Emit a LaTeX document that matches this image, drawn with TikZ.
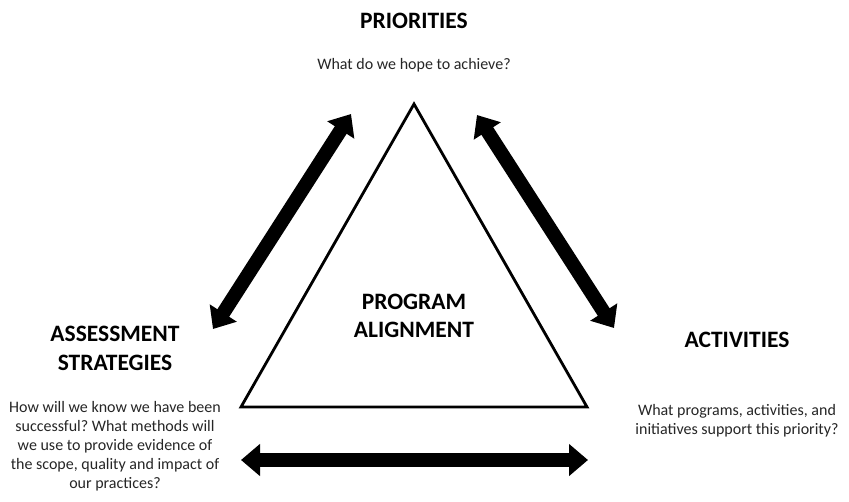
\documentclass[tikz,border=0pt]{standalone}
\usepackage{fontspec}
\setmainfont{Carlito}
\usetikzlibrary{arrows.meta}
\frenchspacing
\begin{document}
\begin{tikzpicture}[x=1pt,y=-1pt,
  title/.style={font=\bfseries\fontsize{23.5}{28}\selectfont, align=center, inner sep=0pt},
  desc/.style={font=\fontsize{16}{19}\selectfont, align=center, inner sep=0pt, text=black!85},
  bigarrow/.style={line width=14pt, {Triangle[length=19pt,width=31pt]}-{Triangle[length=19pt,width=31pt]}},
  tri/.style={draw, line width=2.8pt, line join=miter}]
\useasboundingbox (0,0) rectangle (849,501);
\fill[white] (0,0) rectangle (849,501);
% triangle
\coordinate (apex) at (414,104);
\coordinate (bl) at (241,407);
\coordinate (br) at (587,407);
\draw[tri] (apex) -- (bl) -- (br) -- cycle;
% arrows
\coordinate (la1) at (213,329);
\coordinate (la2) at (351,114);
\coordinate (ra1) at (477,115);
\coordinate (ra2) at (614,328);
\coordinate (ba1) at (241,460);
\coordinate (ba2) at (588,460);
\draw[bigarrow] (la1) -- (la2);
\draw[bigarrow] (ra1) -- (ra2);
\draw[bigarrow] (ba1) -- (ba2);
% texts
\node[title] (prio) at (414,21) {PRIORITIES};
\node[desc] (priod) at (414,65) {What do we hope to achieve?};
\node[title] (prog) at (414,316) {PROGRAM\\ALIGNMENT};
\node[title, font=\bfseries\fontsize{23.5}{29}\selectfont] (assess) at (115,348) {ASSESSMENT\\STRATEGIES};
\node[desc] (assessd) at (115,446) {How will we know we have been\\successful? What methods will\\we use to provide evidence of\\the scope, quality and impact of\\our practices?};
\node[title] (act) at (737,340) {ACTIVITIES};
\node[desc] (actd) at (737,421) {What programs, activities, and\\initiatives support this priority?};
\end{tikzpicture}
\end{document}
